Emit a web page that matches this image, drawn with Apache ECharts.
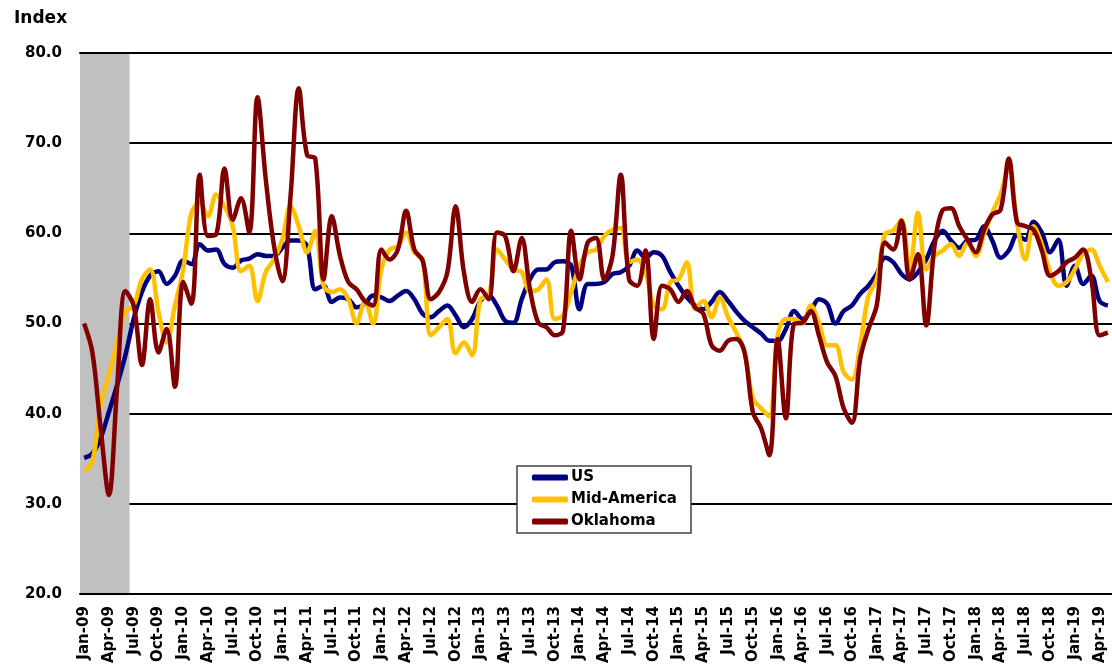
<!DOCTYPE html>
<html>
<head>
<meta charset="utf-8">
<script src="https://cdn.jsdelivr.net/npm/echarts@6/dist/echarts.min.js"></script>
<style>
  html, body { margin: 0; padding: 0; background: #fff; }
  #main { width: 1112px; height: 666px; }
</style>
</head>
<body>
<div id="main"></div>
<script>
// monthly index, Jan-09 .. May-19
var monthNames = ['Jan', 'Feb', 'Mar', 'Apr', 'May', 'Jun', 'Jul', 'Aug', 'Sep', 'Oct', 'Nov', 'Dec'];
var months = [];
for (var y = 9; y <= 19; y++) {
    for (var m = 0; m < 12; m++) {
        if (y === 19 && m > 4) break;
        months.push(monthNames[m] + '-' + (y < 10 ? '0' + y : y));
    }
}

var us = [
    35.1, 35.6, 37.3, 40.2, 43.2, 46.5, 50.5, 53.5, 55.3, 55.8, 54.4, 55.3,
    57.0, 56.6, 58.8, 58.1, 58.2, 56.6, 56.2, 57.0, 57.2, 57.7, 57.5, 57.5,
    58.4, 59.2, 59.2, 58.6, 53.8, 54.2, 52.4, 52.9, 52.7, 51.8, 52.2, 53.1,
    52.9, 52.5, 53.1, 53.6, 52.7, 51.1, 50.7, 51.4, 52.0, 50.9, 49.6, 50.5,
    52.5, 53.1, 52.0, 50.3, 50.1, 52.7, 54.9, 56.0, 56.0, 56.8, 56.9, 56.4,
    51.6, 54.4, 54.4, 54.6, 55.5, 55.7, 56.4, 58.1, 57.3, 57.9, 57.5, 55.7,
    54.2, 52.9, 52.0, 51.6, 52.4, 53.5, 52.5, 51.3, 50.3, 49.6, 48.9, 48.1,
    48.1, 49.4, 51.4, 50.5, 51.4, 52.7, 52.2, 50.0, 51.4, 52.0, 53.3, 54.2,
    55.5, 57.3, 56.8, 55.5, 54.9, 55.7, 57.1, 59.2, 60.3, 59.2, 58.4, 59.2,
    59.3, 60.8, 59.2, 57.3, 58.1, 59.8, 59.3, 61.3, 60.1, 57.9, 59.3, 54.2,
    56.4, 54.4, 55.3, 52.5, 52.0
];
var midAmerica = [
    33.6, 34.7, 41.0, 44.3, 47.9, 51.3, 52.0, 54.9, 56.0, 51.3, 47.9, 52.0,
    56.0, 62.3, 63.4, 61.9, 64.3, 63.0, 60.8, 55.8, 56.4, 52.5, 55.7, 57.1,
    59.3, 63.0, 60.8, 57.9, 60.3, 54.2, 53.5, 53.8, 52.7, 50.0, 52.5, 50.0,
    56.0, 58.2, 58.6, 60.1, 57.9, 57.1, 48.7, 49.6, 50.5, 46.7, 47.9, 46.5,
    52.7, 53.1, 58.2, 57.1, 56.0, 55.7, 53.6, 53.8, 54.9, 50.5, 50.9, 53.5,
    56.4, 57.9, 58.2, 59.7, 60.4, 60.6, 56.8, 57.1, 55.7, 52.0, 51.6, 54.6,
    54.9, 56.8, 51.6, 52.5, 50.7, 52.9, 50.7, 49.0, 46.8, 41.7, 40.6, 39.7,
    48.7, 50.5, 50.5, 50.0, 52.0, 50.1, 47.6, 47.6, 44.6, 43.8, 47.6, 53.1,
    54.9, 59.9, 60.3, 61.5, 56.0, 62.3, 56.0, 57.5, 58.1, 58.8, 57.5, 59.0,
    57.5, 59.9, 62.3, 64.3, 67.4, 61.2, 57.1, 60.8, 58.8, 55.7, 54.2, 54.6,
    56.0, 57.7, 58.2, 56.4, 54.6
];
var oklahoma = [
    50.0, 46.8, 38.4, 31.0, 43.0, 53.6, 52.0, 45.4, 52.7, 46.8, 49.4, 43.0,
    54.6, 52.2, 66.5, 59.7, 59.9, 67.2, 61.5, 63.9, 60.1, 75.1, 66.0, 58.6,
    54.7, 64.1, 76.1, 68.7, 68.3, 54.9, 61.9, 57.5, 54.6, 53.8, 52.5, 52.0,
    58.2, 57.1, 58.2, 62.5, 58.2, 57.0, 52.7, 53.5, 55.7, 63.0, 55.7, 52.4,
    53.8, 52.7, 60.1, 59.7, 55.8, 59.5, 53.8, 50.1, 49.6, 48.7, 49.2, 60.3,
    54.9, 59.0, 59.5, 54.9, 57.5, 66.5, 54.9, 54.2, 58.1, 48.3, 54.2, 53.8,
    52.4, 53.6, 51.8, 51.1, 47.6, 47.0, 48.1, 48.3, 46.8, 40.2, 38.4, 35.4,
    48.3, 39.5, 50.0, 50.1, 51.4, 48.7, 45.7, 44.2, 40.6, 39.0, 46.1, 49.4,
    52.0, 59.0, 58.2, 61.4, 54.9, 57.7, 49.8, 58.6, 62.6, 62.8, 60.8, 59.3,
    57.9, 60.4, 62.1, 62.6, 68.3, 61.2, 60.8, 60.4, 58.1, 55.3, 55.8, 56.8,
    57.3, 58.2, 54.9, 48.7, 49.0
];
// recession shading: first and last month index (Jan-09 .. Jun-09), value range
var recessionRange = [[0, 5, 20, 80]];

var myChart = echarts.init(document.getElementById('main'));

var labelFont = {
    fontFamily: 'DejaVu Sans',
    fontWeight: 'bold',
    fontSize: 15,
    color: '#000'
};

// shaded band covering whole month bins, drawn through the axes
function renderBand(params, api) {
    var first = api.value(0), last = api.value(1);
    var bandW = api.size([1, 0])[0];
    var p0 = api.coord([first, api.value(3)]);
    var p1 = api.coord([last, api.value(2)]);
    var x0 = p0[0] - bandW / 2;
    var x1 = p1[0] + bandW / 2;
    return {
        type: 'rect',
        shape: { x: x0, y: p0[1], width: x1 - x0, height: p1[1] - p0[1] },
        style: { fill: '#c0c0c0' }
    };
}

var option = {
    animation: false,
    backgroundColor: '#fff',
    title: {
        text: 'Index',
        left: 9,
        top: 5,
        textStyle: {
            fontFamily: 'DejaVu Sans',
            fontWeight: 'bold',
            fontSize: 17,
            color: '#000'
        }
    },
    legend: {
        data: ['US', 'Mid-America', 'Oklahoma'],
        orient: 'vertical',
        left: 517,
        top: 466,
        padding: [4, 14, 4, 15],
        itemGap: 7,
        itemWidth: 36,
        itemHeight: 6,
        icon: 'roundRect',
        borderColor: '#404040',
        borderWidth: 1.5,
        backgroundColor: '#fff',
        textStyle: {
            fontFamily: 'DejaVu Sans',
            fontWeight: 'bold',
            fontSize: 15,
            color: '#000',
            padding: [0, 0, 0, -2]
        }
    },
    grid: {
        left: 80,
        top: 53,
        width: 1033,
        height: 542,
        containLabel: false
    },
    xAxis: [
        {
            type: 'category',
            data: months,
            boundaryGap: true,
            z: 5,
            axisLine: { lineStyle: { color: '#000', width: 2 } },
            axisTick: { show: false },
            axisLabel: Object.assign({
                interval: 2,
                rotate: 90,
                margin: 12
            }, labelFont)
        },
        {
            type: 'category',
            data: months,
            position: 'top',
            z: 5,
            axisLine: { lineStyle: { color: '#000', width: 2 } },
            axisTick: { show: false },
            axisLabel: { show: false }
        }
    ],
    yAxis: {
        type: 'value',
        min: 20,
        max: 80,
        interval: 10,
        axisLine: { show: false },
        axisTick: { show: false },
        axisLabel: Object.assign({
            margin: 18,
            formatter: function (v) { return v.toFixed(1); }
        }, labelFont),
        splitLine: { lineStyle: { color: '#000', width: 2 } }
    },
    series: [
        {
            name: 'Recession',
            type: 'custom',
            renderItem: renderBand,
            data: recessionRange,
            encode: { x: [0, 1], y: [2, 3] },
            silent: true,
            z: 1
        },
        {
            name: 'US',
            type: 'line',
            data: us,
            smooth: 0.35,
            symbol: 'none',
            lineStyle: { color: '#000080', width: 4.5 },
            itemStyle: { color: '#000080' },
            z: 2
        },
        {
            name: 'Mid-America',
            type: 'line',
            data: midAmerica,
            smooth: 0.35,
            symbol: 'none',
            lineStyle: { color: '#FFC000', width: 4.5 },
            itemStyle: { color: '#FFC000' },
            z: 3
        },
        {
            name: 'Oklahoma',
            type: 'line',
            data: oklahoma,
            smooth: 0.35,
            symbol: 'none',
            lineStyle: { color: '#800000', width: 4.5 },
            itemStyle: { color: '#800000' },
            z: 4
        }
    ]
};

myChart.setOption(option);
</script>
</body>
</html>
